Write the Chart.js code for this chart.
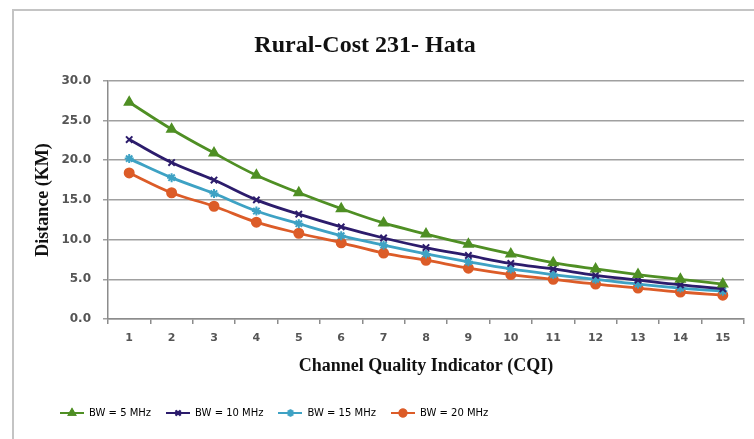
<!DOCTYPE html>
<html>
<head>
<meta charset="utf-8">
<script src="https://cdn.jsdelivr.net/npm/chart.js@4/dist/chart.umd.min.js"></script>
<style>
  body { margin: 0; background: #fff; }
  #wrap { position: relative; width: 754px; height: 439px; overflow: hidden; }
  #frame { position: absolute; left: 12px; top: 9px; width: 800px; height: 500px; border: 2px solid #c4c4c4; }
  #cqiChart { position: absolute; left: 0; top: 0; }
</style>
</head>
<body>
<div id="wrap">
  <div id="frame"></div>
  <canvas id="cqiChart" width="754" height="439"></canvas>
</div>
<script>

var cqi = ["1", "2", "3", "4", "5", "6", "7", "8", "9", "10", "11", "12", "13", "14", "15"];

var bw5 = [27.3, 23.9, 20.9, 18.1, 15.9, 13.9, 12.1, 10.7, 9.4, 8.2, 7.1, 6.3, 5.6, 5.0, 4.4];
var bw10 = [22.6, 19.7, 17.5, 15.0, 13.2, 11.6, 10.2, 9.0, 8.0, 7.0, 6.3, 5.5, 4.9, 4.3, 3.8];
var bw15 = [20.2, 17.8, 15.8, 13.6, 12.0, 10.5, 9.3, 8.2, 7.2, 6.3, 5.6, 5.0, 4.4, 3.9, 3.5];
var bw20 = [18.4, 15.9, 14.2, 12.2, 10.8, 9.6, 8.3, 7.4, 6.4, 5.6, 5.0, 4.4, 3.9, 3.4, 3.0];

var seriesNames = ["BW = 5 MHz", "BW = 10 MHz", "BW = 15 MHz", "BW = 20 MHz"];
var seriesColors = ["#4f8f24", "#2c1c6c", "#3ea2c4", "#dc5c28"];
var seriesMarkers = ["triangle", "crossRot", "star", "circle"];

var yTicks = [0, 5, 10, 15, 20, 25, 30];

// little "line + marker" pictures for the legend, like excel does
function legendIcon(color, marker) {
  var c = document.createElement("canvas");
  c.width = 24; c.height = 12;
  var g = c.getContext("2d");
  g.strokeStyle = color; g.lineWidth = 2;
  g.beginPath(); g.moveTo(0, 6); g.lineTo(24, 6); g.stroke();
  Chart.helpers.drawPoint(g, { pointStyle: marker, radius: 3.5, rotation: 0, borderWidth: 1.5 }, 12, 6);
  g.fillStyle = color;
  g.fill(); g.stroke();
  return c;
}

var datasets = [bw5, bw10, bw15, bw20].map(function (vals, i) {
  return {
    label: seriesNames[i],
    data: vals,
    borderColor: seriesColors[i],
    backgroundColor: seriesColors[i],
    borderWidth: 2.8,
    tension: 0.4,
    pointStyle: seriesMarkers[i],
    pointRadius: i == 0 ? 5 : 4.5,
    pointBorderWidth: 2,
    fill: false
  };
});

// shift title + legend the way the picture has them
var nudge = {
  id: "nudge",
  afterLayout: function (chart) {
    if (chart.titleBlock) { chart.titleBlock.left = 0; chart.titleBlock.right = 730; }
    if (chart.legend) { chart.legend.left = 45; }
  }
};

new Chart("cqiChart", {
  type: "line",
  data: { labels: cqi, datasets: datasets },
  plugins: [nudge],
  options: {
    responsive: false,
    animation: false,
    layout: { padding: { left: 13, right: 10, top: 0, bottom: 11 } },
    plugins: {
      title: {
        display: true,
        text: "Rural-Cost 231- Hata",
        color: "#111",
        font: { family: "Liberation Serif", size: 24, weight: "bold" },
        padding: { top: 31, bottom: 21 }
      },
      legend: {
        position: "bottom",
        align: "start",
        labels: {
          color: "#404040",
          font: { family: "DejaVu Sans", size: 10 },
          usePointStyle: true,
          pointStyleWidth: 24,
          padding: 15,
          generateLabels: function (chart) {
            return chart.data.datasets.map(function (ds, i) {
              return {
                text: ds.label,
                pointStyle: legendIcon(seriesColors[i], seriesMarkers[i]),
                fillStyle: seriesColors[i],
                strokeStyle: seriesColors[i],
                lineWidth: 0,
                datasetIndex: i
              };
            });
          }
        }
      },
      tooltip: { enabled: false }
    },
    scales: {
      x: {
        offset: true,
        afterFit: function (axis) { axis.height = 74; },
        grid: { offset: true, drawOnChartArea: false, tickLength: 5, color: "#8c8c8c", lineWidth: 1.5 },
        border: { color: "#8c8c8c", width: 1.5 },
        ticks: { color: "#555", padding: 8, font: { family: "DejaVu Sans", size: 11, weight: "bold" } },
        title: {
          display: true,
          text: "Channel Quality Indicator (CQI)",
          color: "#111",
          font: { family: "Liberation Serif", size: 18, weight: "bold" },
          padding: { top: 6, bottom: 16 }
        }
      },
      y: {
        min: 0,
        max: 30,
        afterFit: function (axis) { axis.width = 95; },
        afterBuildTicks: function (axis) {
          axis.ticks = yTicks.map(function (v) { return { value: v }; });
        },
        grid: { color: "#a0a0a0", lineWidth: 1.5, tickLength: 5 },
        border: { color: "#8c8c8c", width: 1.5 },
        ticks: {
          color: "#555",
          padding: 12,
          font: { family: "DejaVu Sans", size: 12, weight: "bold" },
          callback: function (v) { return Number(v).toFixed(1); }
        },
        title: {
          display: true,
          text: "Distance (KM)",
          color: "#111",
          font: { family: "Liberation Serif", size: 18, weight: "bold" },
          padding: { top: 20, bottom: 16 }
        }
      }
    }
  }
});
</script>
</body>
</html>
